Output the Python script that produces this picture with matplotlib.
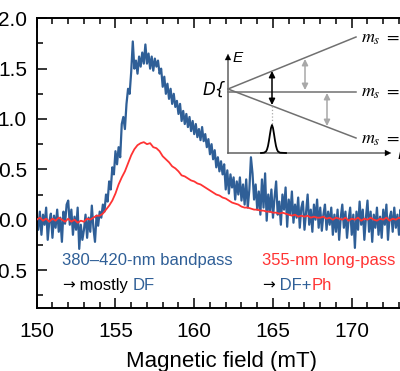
import numpy as np
import matplotlib
matplotlib.use("Agg")
import matplotlib.pyplot as plt
from matplotlib.ticker import MultipleLocator, FormatStrFormatter

plt.rcParams['font.family'] = ['Liberation Sans', 'DejaVu Sans']
plt.rcParams['mathtext.fontset'] = 'stix'

# blue trace: 380-420 nm bandpass, 150.0 ... 173.5 mT, step 0.1 mT
blue_signal = [
    0.02, -0.10, 0.08, -0.15, 0.05, -0.05, 0.12, -0.20, -0.02, 0.06,
    -0.18, 0.04, -0.08, 0.10, -0.12, 0.02, -0.22, 0.08, -0.04, 0.15,
    0.19, -0.05, 0.10, -0.15, 0.03, -0.10, 0.12, -0.29, -0.05, -0.20,
    -0.10, 0.05, -0.18, 0.02, -0.12, 0.14, -0.08, -0.22, 0.04, -0.06,
    0.08, 0.02, 0.15, 0.08, 0.25, 0.18, 0.38, 0.30, 0.52, 0.45,
    0.68, 0.55, 0.72, 0.62, 0.95, 1.02, 0.90, 1.15, 1.30, 1.25,
    1.47, 1.77, 1.50, 1.58, 1.45, 1.62, 1.52, 1.66, 1.55, 1.74,
    1.55, 1.65, 1.50, 1.62, 1.48, 1.60, 1.52, 1.58, 1.45, 1.50,
    1.32, 1.42, 1.25, 1.35, 1.20, 1.30, 1.15, 1.25, 1.12, 1.18,
    1.05, 1.15, 0.98, 1.08, 0.95, 1.05, 0.92, 1.02, 0.88, 0.98,
    0.85, 0.95, 0.82, 0.90, 0.79, 0.92, 0.78, 0.85, 0.72, 0.80,
    0.65, 0.75, 0.60, 0.69, 0.52, 0.62, 0.48, 0.58, 0.45, 0.55,
    0.30, 0.49, 0.26, 0.45, 0.32, 0.42, 0.20, 0.38, 0.25, 0.42,
    0.19, 0.35, 0.15, 0.40, 0.12, 0.30, 0.62, 0.46, 0.20, 0.35,
    0.10, 0.28, 0.05, 0.40, 0.12, 0.46, -0.01, 0.25, 0.08, 0.30,
    0.02, 0.22, 0.38, 0.05, 0.18, -0.05, 0.25, 0.10, 0.32, -0.07,
    0.20, 0.05, 0.28, -0.03, 0.15, 0.02, 0.22, -0.08, 0.12, 0.18,
    -0.10, 0.08, 0.25, -0.05, 0.10, -0.12, 0.15, 0.00, 0.20, -0.08,
    0.12, -0.11, 0.05, 0.15, -0.10, 0.08, -0.05, 0.12, -0.15, 0.05,
    -0.12, 0.10, -0.20, 0.02, 0.15, -0.08, 0.08, -0.18, 0.00, 0.12,
    -0.15, 0.05, -0.28, 0.08, -0.10, 0.18, -0.05, 0.10, -0.20, 0.02,
    0.19, -0.12, 0.08, -0.22, 0.05, -0.08, 0.12, -0.15, 0.03, -0.18,
    0.10, -0.05, 0.15, -0.20, 0.02, 0.08, -0.12, 0.12, -0.08, 0.05,
    -0.15, 0.10, -0.22, 0.02, 0.12, -0.10,
]
field_blue = np.linspace(150.0, 173.5, len(blue_signal))

# red trace: 355 nm long-pass, 150.0 ... 173.4 mT, step 0.2 mT
red_signal = [
    0.00, 0.02, -0.01, 0.01, -0.02, 0.01, -0.01, 0.02, 0.00, -0.02,
    0.01, -0.02, 0.00, -0.03, -0.01, -0.02, 0.01, 0.00, 0.02, 0.04,
    0.04, 0.06, 0.10, 0.14, 0.19, 0.26, 0.35, 0.42, 0.48, 0.56,
    0.64, 0.70, 0.74, 0.76, 0.77, 0.75, 0.76, 0.72, 0.71, 0.68,
    0.63, 0.60, 0.57, 0.53, 0.51, 0.48, 0.44, 0.43, 0.41, 0.39,
    0.38, 0.36, 0.35, 0.33, 0.31, 0.29, 0.27, 0.25, 0.24, 0.22,
    0.21, 0.19, 0.17, 0.16, 0.15, 0.13, 0.12, 0.12, 0.11, 0.10,
    0.10, 0.09, 0.09, 0.08, 0.08, 0.07, 0.07, 0.06, 0.07, 0.06,
    0.05, 0.04, 0.05, 0.03, 0.04, 0.03, 0.04, 0.02, 0.03, 0.02,
    0.02, 0.03, 0.01, 0.02, 0.00, 0.02, 0.01, 0.00, 0.02, -0.01,
    0.01, 0.00, 0.02, -0.01, 0.01, 0.00, 0.02, 0.00, -0.01, 0.01,
    0.00, 0.02, -0.01, 0.01, 0.00, 0.02, 0.00, 0.01,
]
field_red = np.linspace(150.0, 173.4, len(red_signal))

# schematic peak in the inset (pixel offsets / heights)
peak_dx = [-11, -8, -6, -5, -4, -3, -2, -1, 0, 1, 2, 3, 4, 5, 6, 8, 14]
peak_h = [0, 0.3, 1.5, 3.5, 7, 12.5, 19, 25, 28, 25, 19, 12.5, 7, 3.5, 1.5, 0.3, 0]

BLUE = '#2f5f97'
RED = '#ff3333'
W, H = 400, 371

fig = plt.figure(figsize=(4, 3.71), dpi=100)
ax = fig.add_axes([36.7 / W, 62.7 / H, 368.6 / W, 290 / H])

ax.plot(field_blue, blue_signal, color=BLUE, lw=1.6, zorder=2)
ax.plot(field_red, red_signal, color=RED, lw=1.3, zorder=3)

ax.set_xlim(150, 173.4)
ax.set_ylim(-0.88, 2.0)
ax.xaxis.set_major_locator(MultipleLocator(5))
ax.xaxis.set_minor_locator(MultipleLocator(1))
ax.yaxis.set_major_locator(MultipleLocator(0.5))
ax.yaxis.set_minor_locator(MultipleLocator(0.25))
ax.yaxis.set_major_formatter(FormatStrFormatter('%.1f'))
ax.tick_params(which='both', direction='in', top=True, right=False, width=1.1, labelsize=15)
ax.tick_params(which='major', length=7)
ax.tick_params(which='minor', length=4)
ax.tick_params(axis='y', pad=7)
ax.tick_params(axis='x', pad=10)
for s in ax.spines.values():
    s.set_linewidth(1.4)
ax.set_xlabel('Magnetic field (mT)', fontsize=16, labelpad=7)

arrow_font = ['DejaVu Sans']
ax.text(151.6, -0.41, '380\u2013420-nm bandpass', color=BLUE, fontsize=12, va='center')
t = ax.text(151.6, -0.65, '\u2192', color='black', fontsize=11, va='center', family=arrow_font)
t = ax.annotate(' mostly ', xycoords=t, xy=(1, 0.5), va='center', color='black', fontsize=12)
ax.annotate('DF', xycoords=t, xy=(1, 0.5), va='center', color=BLUE, fontsize=12)
ax.text(164.3, -0.41, '355-nm long-pass', color=RED, fontsize=12, va='center')
t = ax.text(164.3, -0.65, '\u2192', color='black', fontsize=11, va='center', family=arrow_font)
t = ax.annotate(' DF+', xycoords=t, xy=(1, 0.5), va='center', color=BLUE, fontsize=12)
ax.annotate('Ph', xycoords=t, xy=(1, 0.5), va='center', color=RED, fontsize=12)

# inset energy diagram, drawn in figure pixels
ins = fig.add_axes([0, 0, 1, 1], facecolor='none')
ins.set_xlim(0, W)
ins.set_ylim(H, 0)
ins.axis('off')

axis_c = '#606060'
line_c = '#707070'
grey_c = '#a8a8a8'
x0, y0 = 228, 153
ins.plot([x0, x0], [y0, 58], color=axis_c, lw=1.1)
ins.plot([x0, 388], [y0, y0], color=axis_c, lw=1.1)
ins.annotate('', xy=(x0, 51), xytext=(x0, 60),
             arrowprops=dict(arrowstyle='-|>', color='black', lw=0.1, mutation_scale=11))
ins.annotate('', xy=(394, y0), xytext=(385, y0),
             arrowprops=dict(arrowstyle='-|>', color='black', lw=0.1, mutation_scale=11))
ins.text(233, 58, 'E', fontsize=11, style='italic', va='center', ha='left')
ins.text(398, y0 + 2, 'B', fontsize=11, style='italic', va='center', ha='left')
ins.text(226, 90, 'D{', fontsize=12, style='italic', va='center', ha='right',
         family=['DejaVu Sans'])

vx, vy = 228, 89
ins.plot([vx, 356], [vy, 37], color=line_c, lw=1.1)
ins.plot([vx, 356], [91.5, 91.5], color=line_c, lw=1.1)
ins.plot([vx, 356], [vy, 138], color=line_c, lw=1.1)
ins.text(361, 38, r'$m_s\ =\ +1$', fontsize=13, va='center')
ins.text(361, 91.5, r'$m_s\ =\ 0$', fontsize=13, va='center')
ins.text(361, 139, r'$m_s\ =\ -1$', fontsize=13, va='center')

ins.annotate('', xy=(272, 71), xytext=(272, 105),
             arrowprops=dict(arrowstyle='<|-|>', color='black', lw=1.1, mutation_scale=9,
                             shrinkA=0, shrinkB=0))
ins.annotate('', xy=(305, 59), xytext=(305, 90),
             arrowprops=dict(arrowstyle='<|-|>', color=grey_c, lw=1.1, mutation_scale=9,
                             shrinkA=0, shrinkB=0))
ins.annotate('', xy=(327, 93), xytext=(327, 126),
             arrowprops=dict(arrowstyle='<|-|>', color=grey_c, lw=1.1, mutation_scale=9,
                             shrinkA=0, shrinkB=0))
ins.plot([272, 272], [106, 124], color=grey_c, lw=0.9, ls=':')
ins.plot([272 + d for d in peak_dx], [y0 - h for h in peak_h], color='black', lw=1.3)

fig.savefig('out.png', dpi=100)
